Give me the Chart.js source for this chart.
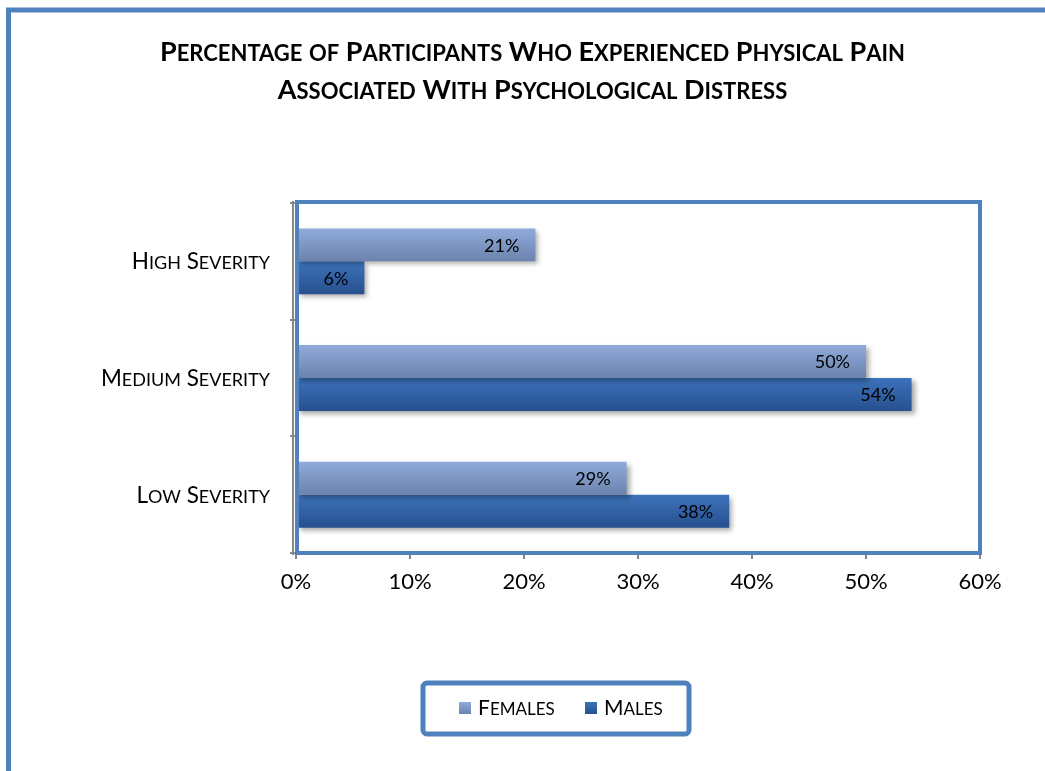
<!DOCTYPE html>
<html>
<head>
<meta charset="utf-8">
<script src="https://cdn.jsdelivr.net/npm/chart.js@4/dist/chart.umd.min.js"></script>
<style>
  html, body { margin: 0; padding: 0; background: #fff; }
  canvas { display: block; }
</style>
</head>
<body>
<canvas id="painChart" width="1045" height="771"></canvas>
<script>
// chart data
const titleLines = ["Percentage of Participants Who Experienced Physical Pain", "Associated With Psychological Distress"];
const categories = ["High Severity", "Medium Severity", "Low Severity"];
const seriesNames = ["Females", "Males"];
const females = [21, 50, 29];
const males = [6, 54, 38];
const xTicks = [0, 10, 20, 30, 40, 50, 60];

const FONT = "Lato, 'Open Sans', sans-serif";
const BLUE = "#4f81bd";
const GREY = "#868686";
const CAT_PCT = 0.565;

// top/bottom colours of each series
const shades = [
  ["#90abdb", "#6b83ad"],
  ["#3c72bb", "#27508f"]
];

// draws text as small caps: capitals at full size, the rest uppercased smaller
function smallCaps(ctx, text, x, y, size, weight, align) {
  const small = Math.round(size * 0.8);
  const runs = [];
  for (const ch of text) {
    const big = ch === ch.toUpperCase();
    const sz = big ? size : small;
    const last = runs[runs.length - 1];
    if (last && last.size === sz) last.text += ch.toUpperCase();
    else runs.push({ text: ch.toUpperCase(), size: sz });
  }
  let total = 0;
  runs.forEach(r => {
    ctx.font = weight + " " + r.size + "px " + FONT;
    r.w = ctx.measureText(r.text).width;
    total += r.w;
  });
  let cx = align === "center" ? x - total / 2 : align === "right" ? x - total : x;
  ctx.textAlign = "left";
  ctx.textBaseline = "alphabetic";
  runs.forEach(r => {
    ctx.font = weight + " " + r.size + "px " + FONT;
    ctx.fillText(r.text, cx, y);
    cx += r.w;
  });
  return total;
}

function barGradient(ctx, top, bottom, idx) {
  const g = ctx.createLinearGradient(0, top, 0, bottom);
  g.addColorStop(0, shades[idx][0]);
  g.addColorStop(1, shades[idx][1]);
  return g;
}

// gradient fill for each bar, worked out from the category scale
function barFill(idx) {
  return function (c) {
    const chart = c.chart;
    const y = chart.scales.y;
    if (!y || c.dataIndex === undefined) return shades[idx][0];
    const band = (y.bottom - y.top) / categories.length;
    const mid = y.getPixelForValue(c.dataIndex);
    const h = band * CAT_PCT / 2;
    const top = idx === 0 ? mid - h : mid;
    if (!isFinite(top) || !isFinite(h) || h <= 0) return shades[idx][0];
    return barGradient(chart.ctx, top, top + h, idx);
  };
}

const decor = {
  id: "decor",
  beforeDraw(chart) {
    const ctx = chart.ctx;
    ctx.save();
    ctx.fillStyle = "#fff";
    ctx.fillRect(0, 0, chart.width, chart.height);
    // outer frame
    ctx.strokeStyle = BLUE;
    ctx.lineWidth = 5;
    ctx.strokeRect(8.5, 10, chart.width + 50, chart.height + 50);
    ctx.restore();
  },
  beforeDatasetDraw(chart) {
    const ctx = chart.ctx;
    ctx.save();
    ctx.shadowColor = "rgba(0,0,0,0.35)";
    ctx.shadowBlur = 5;
    ctx.shadowOffsetX = 3;
    ctx.shadowOffsetY = 3;
  },
  afterDatasetDraw(chart) {
    chart.ctx.restore();
  },
  afterDatasetsDraw(chart) {
    const ctx = chart.ctx;
    const area = chart.chartArea;
    ctx.save();

    // value labels inside the bar ends
    ctx.fillStyle = "#000";
    ctx.font = "18px " + FONT;
    ctx.textAlign = "right";
    ctx.textBaseline = "middle";
    chart.data.datasets.forEach((ds, i) => {
      chart.getDatasetMeta(i).data.forEach((bar, j) => {
        ctx.fillText(ds.data[j] + "%", bar.x - 16, bar.y + 1);
      });
    });

    // plot frame
    ctx.strokeStyle = BLUE;
    ctx.lineWidth = 4;
    ctx.strokeRect(area.left + 1, area.top - 1, area.right - area.left - 1, area.bottom - area.top + 1);
    ctx.strokeStyle = GREY;
    ctx.lineWidth = 2;
    ctx.beginPath();
    ctx.moveTo(area.left - 3, area.top - 2);
    ctx.lineTo(area.left - 3, area.bottom + 2);
    ctx.stroke();

    // category labels
    ctx.fillStyle = "#000";
    const y = chart.scales.y;
    categories.forEach((c, i) => {
      smallCaps(ctx, c, area.left - 26, y.getPixelForValue(i) + 8, 22.5, "normal", "right");
    });

    // title
    smallCaps(ctx, titleLines[0], chart.width / 2 + 10, 61, 27, "bold", "center");
    smallCaps(ctx, titleLines[1], chart.width / 2 + 10, 99, 27, "bold", "center");

    // legend
    const lx = 423, ly = 683, lw = 266, lh = 51;
    ctx.strokeStyle = BLUE;
    ctx.lineWidth = 5;
    ctx.beginPath();
    ctx.roundRect(lx, ly, lw, lh, 4);
    ctx.stroke();
    const items = [{ x: 459 }, { x: 585 }];
    items.forEach((it, i) => {
      ctx.fillStyle = barGradient(ctx, 702, 714, i);
      ctx.fillRect(it.x, 702, 12, 12);
      ctx.fillStyle = "#000";
      smallCaps(ctx, seriesNames[i], it.x + 19, 715, 21, "normal", "left");
    });
    ctx.restore();
  }
};

new Chart(document.getElementById("painChart"), {
  type: "bar",
  data: {
    labels: categories,
    datasets: [
      { label: seriesNames[0], data: females, backgroundColor: barFill(0) },
      { label: seriesNames[1], data: males, backgroundColor: barFill(1) }
    ]
  },
  options: {
    indexAxis: "y",
    responsive: false,
    animation: false,
    devicePixelRatio: 1,
    categoryPercentage: CAT_PCT,
    barPercentage: 1,
    layout: { padding: { left: 286, right: 65, top: 203, bottom: 168 } },
    plugins: {
      legend: { display: false },
      title: { display: false },
      tooltip: { enabled: false }
    },
    scales: {
      x: {
        min: 0,
        max: 60,
        afterBuildTicks: s => { s.ticks = xTicks.map(v => ({ value: v })); },
        afterFit: s => { s.height = 50; },
        grid: { drawOnChartArea: false, color: GREY, lineWidth: 2, tickLength: 6 },
        border: { display: false },
        ticks: {
          color: "#000",
          font: { family: FONT, size: 22 },
          padding: 10,
          callback: v => v + "%"
        }
      },
      y: {
        afterFit: s => { s.width = 10; },
        grid: { drawOnChartArea: false, color: GREY, lineWidth: 2, tickLength: 6, offset: true },
        border: { display: false },
        ticks: { display: false }
      }
    }
  },
  plugins: [decor]
});
</script>
</body>
</html>
